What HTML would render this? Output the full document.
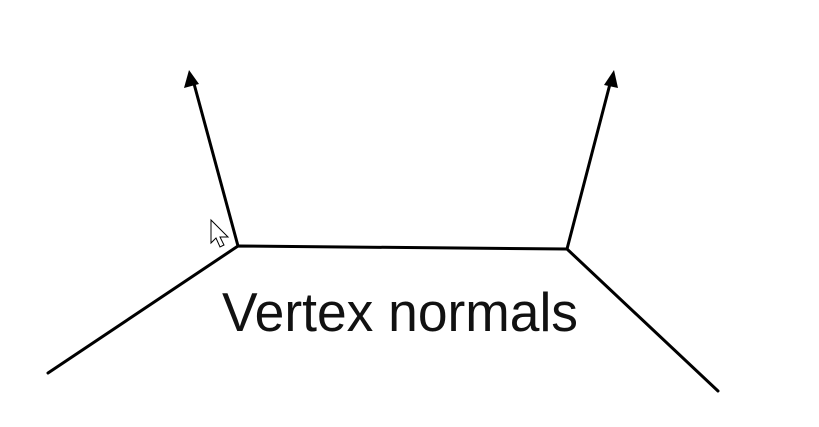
<!DOCTYPE html>
<html><head><meta charset="utf-8"><style>
html,body{margin:0;padding:0;background:#fff;width:819px;height:427px;overflow:hidden}
</style></head><body>
<svg width="819" height="427" viewBox="0 0 819 427">
<g stroke="#000" stroke-width="3" fill="none" stroke-linecap="round" stroke-linejoin="round">
<polyline points="48,373 238,246 567,249 718,391"/>
<line x1="238" y1="246" x2="193" y2="80"/>
<line x1="567" y1="249" x2="611" y2="80"/>
</g>
<polygon points="189,70 184,88 199,84" fill="#000"/>
<polygon points="614,70 604,85 618,88" fill="#000"/>
<path d="M211,220 L211,243 L216,238 L220,247 L224,245 L220,237 L228,237 Z" fill="#fff" stroke="#000" stroke-width="1"/>
<text x="222" y="331" font-family="Liberation Sans, sans-serif" font-size="55" textLength="356" lengthAdjust="spacingAndGlyphs" fill="#111">Vertex normals</text>
</svg>
</body></html>
